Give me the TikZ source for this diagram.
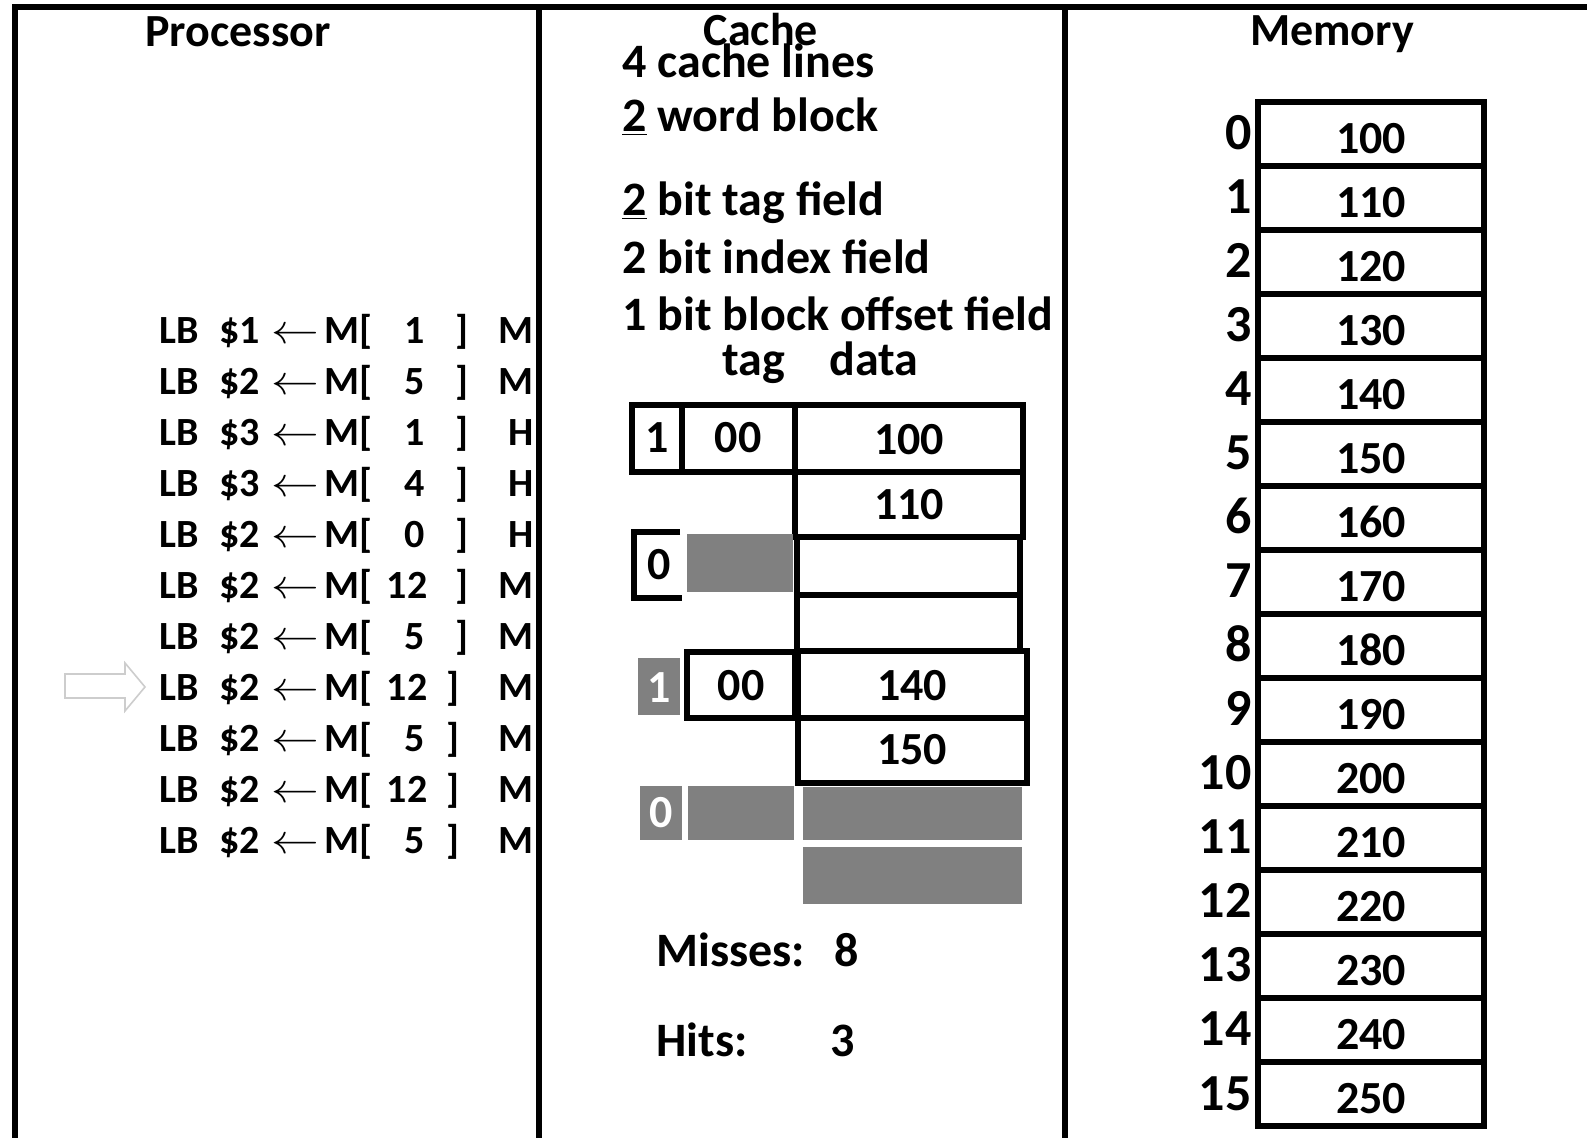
\documentclass[tikz,border=0pt]{standalone}
\usepackage{fontspec}
\setmainfont{Carlito}
\definecolor{cgray}{RGB}{128,128,128}
\definecolor{hgray}{RGB}{205,205,205}
\begin{document}
\begin{tikzpicture}[x=0.5pt,y=-0.5pt,
  frame/.style={line width=3pt},
  cbox/.style={draw, line width=2.6pt},
  mbox/.style={draw, line width=2.6pt},
  gbox/.style={fill=cgray},
  head/.style={font=\fontsize{23}{25}\selectfont\bfseries, inner sep=0pt, anchor=base},
  info/.style={font=\fontsize{24}{26}\selectfont\bfseries, inner sep=0pt, anchor=base west},
  stat/.style={font=\fontsize{24}{26}\selectfont\bfseries, inner sep=0pt, anchor=base},
  ins/.style={font=\fontsize{20}{22}\selectfont\bfseries, inner sep=0pt, anchor=base},
  val/.style={font=\fontsize{23}{25}\selectfont\bfseries, inner sep=0pt},
  adr/.style={font=\fontsize{26}{28}\selectfont\bfseries, inner sep=0pt, anchor=base east},
  wval/.style={val, text=white}
]
\useasboundingbox (0,0) rectangle (1587,1138);
\fill[white] (0,0) rectangle (1587,1138);
% frame
\draw[frame] (15,1138) -- (15,7) -- (1587,7);
\draw[frame] (539,7) -- (539,1138);
\draw[frame] (1065,7) -- (1065,1138);
% headings
\node[head] (hproc) at (238,47) {Processor};
\node[head] (hcache) at (761,46) {Cache};
\node[head] (hmem) at (1332,46) {Memory};
% cache info
\node[info] (i1) at (622,78) {4 cache lines};
\node[info] (i2) at (622,132) {\underline{2} word block};
\node[info] (i3) at (622,216) {\underline{2} bit tag field};
\node[info] (i4) at (622,274) {2 bit index field};
\node[info] (i5) at (622,331) {1 bit block offset field};
\node[info, anchor=base] (ltag) at (754,376) {tag};
\node[info, anchor=base] (ldata) at (874,376) {data};
% instructions
\foreach \r/\a/\ax/\hm/\bx [count=\i from 0] in {1/1/415/M/462, 2/5/415/M/462, 3/1/415/H/462, 3/4/415/H/462, 2/0/415/H/462, 2/12/407/M/462, 2/5/415/M/462, 2/12/407/M/453, 2/5/415/M/453, 2/12/407/M/453, 2/5/415/M/453}{
  \pgfmathsetmacro\yb{344+51*\i}
  \node[ins, anchor=base west] (lb\i) at (159,\yb) {LB};
  \node[ins, anchor=base west] (rg\i) at (219,\yb) {\$\r};
  \node[ins] (ar\i) at (295,\yb) {\scalebox{1.15}[1]{$\leftarrow$}};
  \node[ins, anchor=base west] (mb\i) at (324,\yb) {M[};
  \node[ins] (ad\i) at (\ax,\yb) {\a};
  \node[ins] (cb\i) at (\bx,\yb) {]};
  \node[ins, anchor=base east] (hm\i) at (534,\yb) {\hm};
}
% current instruction pointer (hollow arrow)
\draw[hgray, line width=0.8pt] (65,674) -- (125,674) -- (125,663) -- (145,687) -- (125,711) -- (125,698) -- (65,698) -- cycle;
% cache line 0
\draw[cbox] (632,405) rectangle (682,472);
\node[val] (v0) at (657,438) {1};
\draw[cbox] (682,405) rectangle (795,472);
\node[val] (t0) at (738,438) {00};
\draw[cbox] (795,405) rectangle (1023,472);
\node[val] (d00) at (909,440) {100};
\draw[cbox] (795,472) rectangle (1023,537);
\node[val] (d01) at (909,505) {110};
% cache line 1
\draw[line width=2.6pt] (680,532) -- (634,532) -- (634,598) -- (682,598);
\node[val] (v1) at (659,565) {0};
\fill[cgray] (687,534) rectangle (793,592);
\draw[cbox] (797,537) rectangle (1020,595);
\draw[cbox] (797,595) rectangle (1020,651);
% cache line 2
\fill[cgray] (638,658) rectangle (680,715);
\node[wval] (v2) at (659,688) {1};
\draw[cbox] (687,652) rectangle (795,718);
\node[val] (t2) at (741,686) {00};
\draw[cbox] (798,651) rectangle (1027,718);
\node[val] (d20) at (912,686) {140};
\draw[cbox] (798,718) rectangle (1027,783);
\node[val] (d21) at (912,750) {150};
% cache line 3
\fill[cgray] (640,786) rectangle (682,840);
\node[wval] (v3) at (661,813) {0};
\fill[cgray] (688,786) rectangle (794,840);
\fill[cgray] (803,787) rectangle (1022,840);
\fill[cgray] (803,847) rectangle (1022,904);
% stats
\node[info] (miss) at (656,967) {Misses:};
\node[stat] (nmiss) at (847,967) {8};
\node[info] (hits) at (656,1057) {Hits:};
\node[stat] (nhits) at (843,1057) {3};
% memory
\foreach \i in {0,...,15}{
  \pgfmathsetmacro\yt{102+64*\i}
  \pgfmathtruncatemacro\v{100+10*\i}
  \draw[mbox] (1258,\yt) rectangle (1484,{\yt+64});
  \node[val, anchor=base] (m\i) at (1371,{\yt+52}) {\v};
  \node[adr] (a\i) at (1252,{\yt+48}) {\i};
}
\end{tikzpicture}
\end{document}
